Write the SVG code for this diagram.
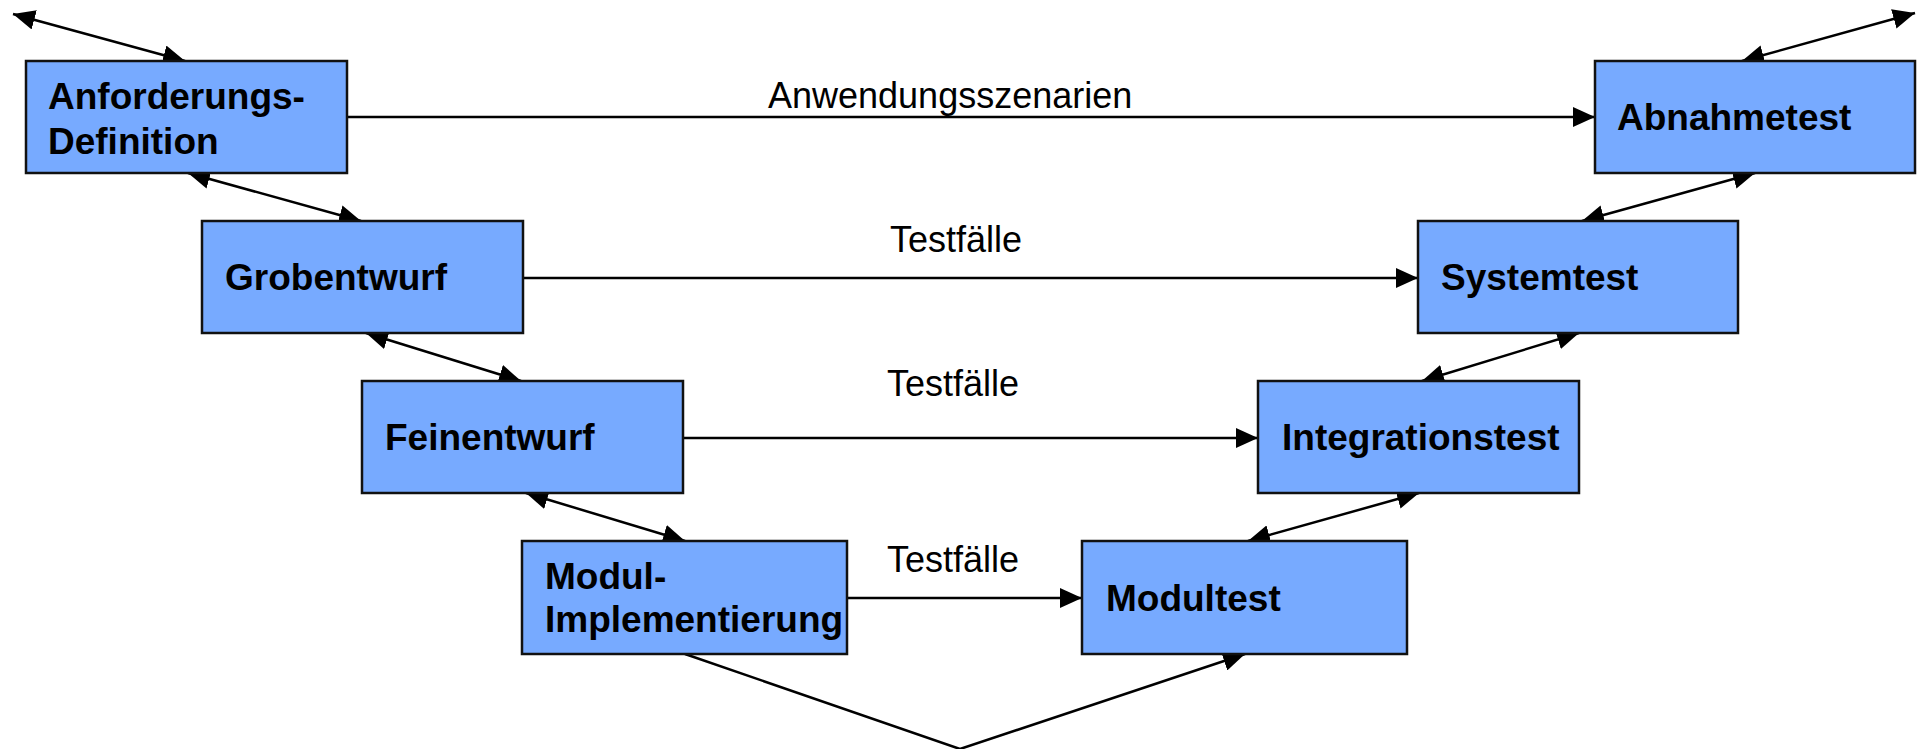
<svg xmlns="http://www.w3.org/2000/svg" width="1917" height="749" viewBox="0 0 1917 749">
<style>
.box{fill:#77AAFF;stroke:#111;stroke-width:2.5}
.t{font-family:"Liberation Sans",Arial,sans-serif;font-weight:bold;font-size:37px;fill:#000}
.lbl{font-family:"Liberation Sans",Arial,sans-serif;font-size:36px;fill:#000}
.c{stroke:#000;stroke-width:2.5;fill:none}
.a{marker-end:url(#ah)}
.d{marker-start:url(#ah);marker-end:url(#ah)}
</style>
<defs>
<marker id="ah" markerUnits="userSpaceOnUse" markerWidth="22" markerHeight="20" refX="22" refY="10" orient="auto-start-reverse" viewBox="0 0 22 20">
<path d="M0,0 L22,10 L0,20 z" fill="#000"/>
</marker>
</defs>
<rect width="1917" height="749" fill="#fff"/>
<g id="connectors">
<line class="c a" x1="347" y1="117" x2="1595" y2="117"/>
<line class="c a" x1="523" y1="278" x2="1418" y2="278"/>
<line class="c a" x1="683" y1="438" x2="1258" y2="438"/>
<line class="c a" x1="847" y1="598" x2="1082" y2="598"/>
<line class="c d" x1="13" y1="14" x2="185" y2="61"/>
<line class="c d" x1="188" y1="173" x2="361" y2="221"/>
<line class="c d" x1="366" y1="333" x2="521" y2="381"/>
<line class="c d" x1="526" y1="493" x2="685" y2="541"/>
<line class="c d" x1="1742" y1="61" x2="1915" y2="13"/>
<line class="c d" x1="1755" y1="173" x2="1582" y2="221"/>
<line class="c d" x1="1579" y1="333" x2="1422" y2="381"/>
<line class="c d" x1="1419" y1="493" x2="1248" y2="541"/>
<polyline class="c a" points="685,654 960,749 1245,654"/>
<text class="lbl" x="768" y="108">Anwendungsszenarien</text>
<text class="lbl" x="890" y="252">Testfälle</text>
<text class="lbl" x="887" y="396">Testfälle</text>
<text class="lbl" x="887" y="572">Testfälle</text>
</g>
<g id="anforderungsdefinition">
<rect class="box" x="26" y="61" width="321" height="112"/>
<text class="t" x="48" y="109">Anforderungs-</text>
<text class="t" x="48" y="154">Definition</text>
</g>
<g id="abnahmetest">
<rect class="box" x="1595" y="61" width="320" height="112"/>
<text class="t" x="1617" y="130">Abnahmetest</text>
</g>
<g id="grobentwurf">
<rect class="box" x="202" y="221" width="321" height="112"/>
<text class="t" x="225" y="290">Grobentwurf</text>
</g>
<g id="systemtest">
<rect class="box" x="1418" y="221" width="320" height="112"/>
<text class="t" x="1441" y="290">Systemtest</text>
</g>
<g id="feinentwurf">
<rect class="box" x="362" y="381" width="321" height="112"/>
<text class="t" x="385" y="450">Feinentwurf</text>
</g>
<g id="integrationstest">
<rect class="box" x="1258" y="381" width="321" height="112"/>
<text class="t" x="1282" y="450">Integrationstest</text>
</g>
<g id="modulimplementierung">
<rect class="box" x="522" y="541" width="325" height="113"/>
<text class="t" x="545" y="589">Modul-</text>
<text class="t" x="545" y="632">Implementierung</text>
</g>
<g id="modultest">
<rect class="box" x="1082" y="541" width="325" height="113"/>
<text class="t" x="1106" y="611">Modultest</text>
</g>
</svg>
